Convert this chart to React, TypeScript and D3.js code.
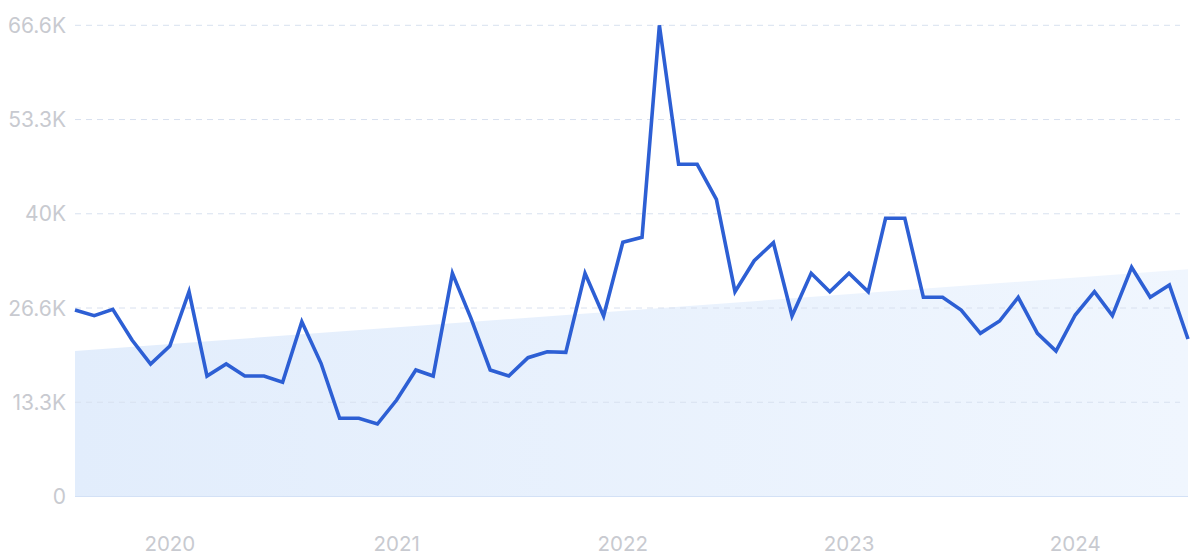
import React from "react";
import * as d3 from "d3";

const startMonth = new Date(2019, 7, 1); // Aug 2019
const values: number[] = [
  26360, 25555, 26459, 22120, 18728, 21272, 28946, 17031, 18728, 17031,
  17031, 16141, 24706, 18827, 11053, 11053, 10247, 13639, 17880, 17031,
  31547, 25187, 17880, 17031, 19618, 20466, 20381, 31547, 25512, 35929,
  36635, 66600, 46953, 46953, 42006, 28946, 33328, 35872, 25512, 31547,
  28946, 31547, 28946, 39321, 39321, 28155, 28155, 26360, 23067, 24805,
  28155, 23067, 20565, 25653, 28946, 25555, 32395, 28155, 29893, 22261,
];
const trendValues: number[] = [20565, 32112];
const yTickValues: number[] = [0, 13320, 26640, 39960, 53280, 66600];
const yTickLabels: string[] = ["0", "13.3K", "26.6K", "40K", "53.3K", "66.6K"];
const xTickYears: number[] = [2020, 2021, 2022, 2023, 2024];

const W = 1200;
const H = 558;
const margin = { left: 75, right: 12, top: 25.3, bottom: 61.5 };

export default function App() {
  const dates = values.map((_, i) => d3.timeMonth.offset(startMonth, i));
  const x = d3
    .scaleTime()
    .domain([dates[0], dates[dates.length - 1]])
    .range([margin.left, W - margin.right]);
  const y = d3
    .scaleLinear()
    .domain([0, 66600])
    .range([H - margin.bottom, margin.top]);

  const line = d3
    .line<number>()
    .x((_, i) => x(dates[i]))
    .y((d) => y(d));

  const trendDates = [dates[0], dates[dates.length - 1]];
  const area = d3
    .area<number>()
    .x((_, i) => x(trendDates[i]))
    .y0(y(0))
    .y1((d) => y(d));

  const font = "Inter, 'Noto Sans', sans-serif";

  return (
    <div style={{ position: "absolute", left: 0, top: 0 }}>
      <svg width={W} height={H} style={{ display: "block" }}>
        <defs>
          <linearGradient id="trendFill" x1="0" y1="0" x2="1" y2="0">
            <stop offset="0%" stopColor="#e2edfc" />
            <stop offset="100%" stopColor="#f0f6fe" />
          </linearGradient>
        </defs>
        <rect width={W} height={H} fill="#ffffff" />
        <path d={area(trendValues) || ""} fill="url(#trendFill)" />
        {yTickValues.map((v, i) =>
          i === 0 ? null : (
            <line
              key={"g" + i}
              x1={margin.left}
              x2={W - margin.right - 8}
              y1={y(v)}
              y2={y(v)}
              stroke="#d8e1ef"
              strokeWidth={1}
              strokeDasharray="6 5"
            />
          )
        )}
        <line
          x1={margin.left}
          x2={W - margin.right}
          y1={y(0)}
          y2={y(0)}
          stroke="#d3e1f6"
          strokeWidth={1}
        />
        {yTickValues.map((v, i) => (
          <text
            key={"yl" + i}
            x={66}
            y={y(v)}
            dy="0.36em"
            textAnchor="end"
            fontFamily={font}
            fontSize={21}
            fill="#c8cad0"
          >
            {yTickLabels[i]}
          </text>
        ))}
        {xTickYears.map((yr) => (
          <text
            key={"xl" + yr}
            x={x(new Date(yr, 0, 1))}
            y={550.5}
            textAnchor="middle"
            fontFamily={font}
            fontSize={20.5}
            fill="#c8cad0"
          >
            {yr}
          </text>
        ))}
        <path
          d={line(values) || ""}
          fill="none"
          stroke="#2d5fd4"
          strokeWidth={3.6}
          strokeLinejoin="miter"
          strokeLinecap="butt"
        />
      </svg>
    </div>
  );
}
